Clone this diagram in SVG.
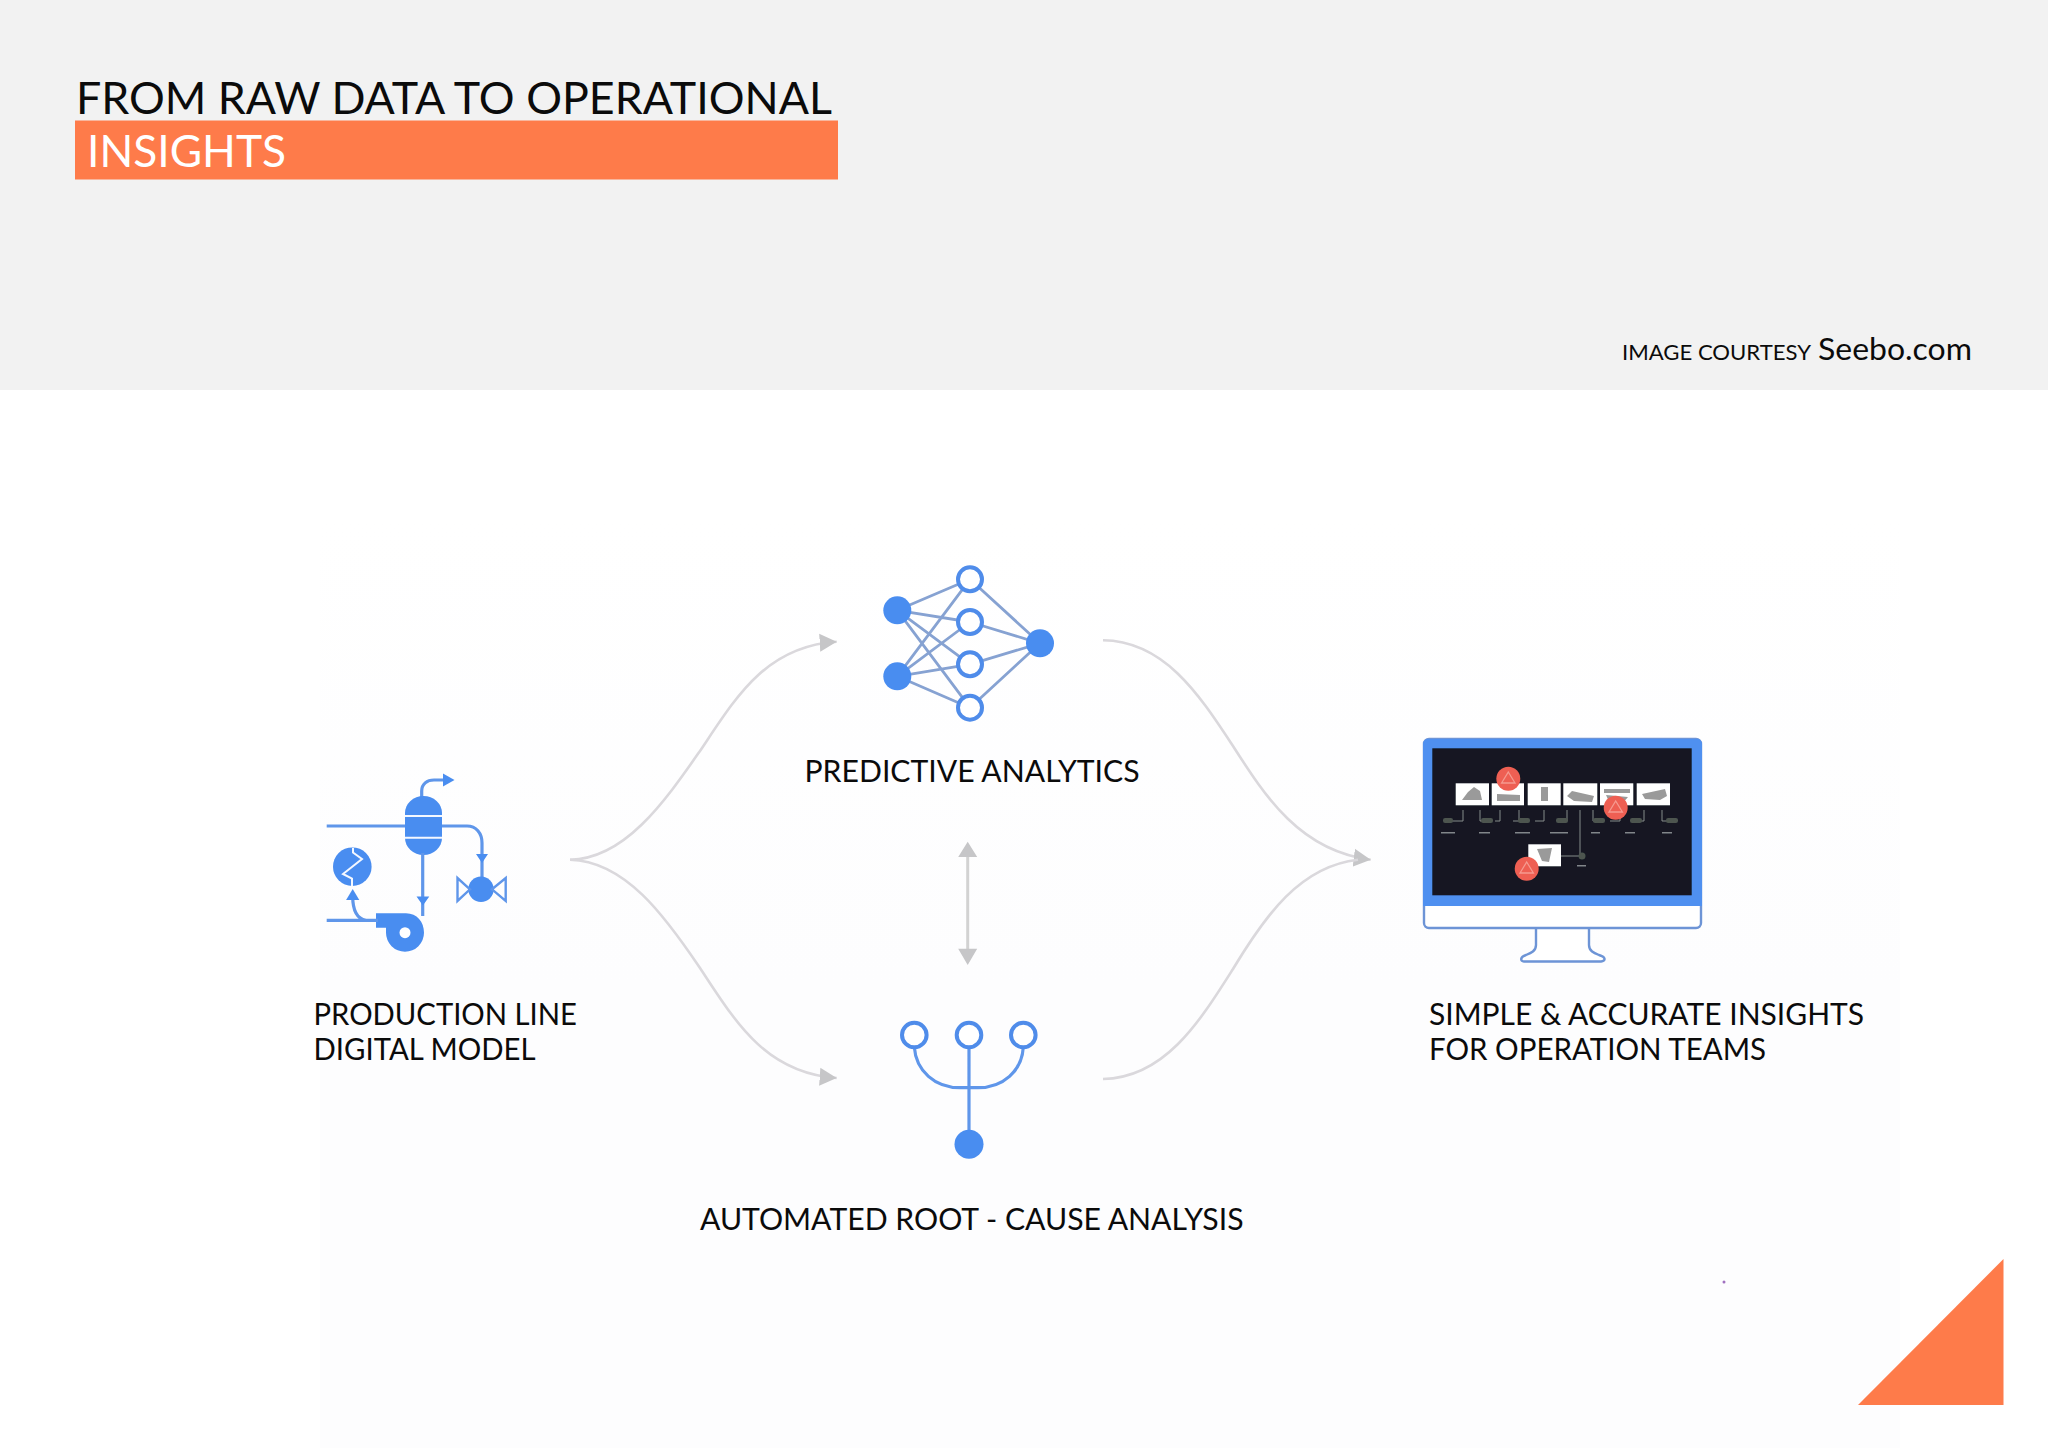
<svg xmlns="http://www.w3.org/2000/svg" width="2048" height="1448" viewBox="0 0 2048 1448">
<defs>
<style>
text{font-family:"Lato","Open Sans","Liberation Sans",sans-serif;fill:#0b0b0b}
.lbl{font-size:30px}
.b{fill:#4a8df0}
.bl{fill:none;stroke:#5f96ea;stroke-width:3.2}
.w{fill:none;stroke:#f4f8ff;stroke-width:2}
.e{stroke:#86a2d2;stroke-width:2.8;fill:none}
.h{fill:#fff;stroke:#4f8cea;stroke-width:4}
.c{fill:none;stroke:#dad8dc;stroke-width:2.6}
.t{fill:#fff}
.s{fill:#9a9a9a}
.g{fill:none;stroke:#8a8c8a;stroke-width:1}
.r{fill:#ee5f52}
.rt{fill:none;stroke:#f59a90;stroke-width:1.3}
</style>
<linearGradient id="fade" x1="0" y1="0" x2="0" y2="1"><stop offset="0" stop-color="#ffffff"/><stop offset="0.5" stop-color="#fdfdfe"/></linearGradient>
<filter id="soft" x="-5%" y="-5%" width="110%" height="110%"><feGaussianBlur stdDeviation="0.6"/></filter>
<marker id="ah" markerUnits="userSpaceOnUse" markerWidth="18" markerHeight="20" refX="17" refY="10" orient="auto"><path d="M0 1 17 10 0 19Z" fill="#c6c6c8"/></marker>
</defs>
<rect width="2048" height="1448" fill="#fff"/>
<rect x="320" y="520" width="1580" height="928" fill="url(#fade)"/>
<g id="header">
<rect width="2048" height="390" fill="#f2f2f2"/>
<text x="76" y="114" font-size="44" textLength="756" lengthAdjust="spacingAndGlyphs">FROM RAW DATA TO OPERATIONAL</text>
<rect x="75" y="120.500" width="763" height="59" fill="#fe7b4a"/>
<text x="87" y="167" font-size="44" textLength="199" lengthAdjust="spacingAndGlyphs" style="fill:#fff">INSIGHTS</text>
<text x="1622" y="360" font-size="22" textLength="189" lengthAdjust="spacingAndGlyphs">IMAGE COURTESY</text>
<text x="1818" y="360" font-size="30" textLength="154" lengthAdjust="spacingAndGlyphs">Seebo.com</text>
</g>
<g id="connectors" transform="translate(0 1)">
<path class="c" marker-end="url(#ah)" d="M570 858.700C625 858 665 800 700 750C735 698 765 645 836.700 640.700"/>
<path class="c" marker-end="url(#ah)" d="M570 858.700C625 860 665 915 700 967C735 1020 765 1072 836.700 1077"/>
<path class="c" marker-end="url(#ah)" d="M1103 639.300C1165 640 1200 695 1233 745C1265 795 1300 850 1370.700 858.700"/>
<path class="c" d="M1103 1078C1165 1077 1200 1020 1233 968C1265 915 1300 865 1358 858.700"/>
<g id="double-arrow">
<path d="M967.700 852V952" stroke="#d2d2d2" stroke-width="3" fill="none"/>
<path d="M967.700 840.700 977.200 856H958.200ZM967.700 964 977.200 947.700H958.200Z" fill="#c6c6c8"/>
</g>
</g>
<g id="production-line" transform="translate(0 1)">
<g filter="url(#soft)">
<path class="bl" d="M326.700 825H410M441 825H467C476 825 482 832 482 842V880"/>
<path class="bl" d="M421.700 796V790C421.700 783 427 779 434 779H445"/>
<path class="b" d="M443 772.500 454.500 779 443 785.500Z"/>
<rect class="b" x="405" y="795" width="37" height="59" rx="18.500" ry="17"/>
<path class="w" d="M405 815H442M405 836.700H442"/>
<path class="bl" d="M422.700 852V915"/>
<path class="b" d="M416.500 895.500H429.300L422.900 904.500ZM476 853H488L482 862Z"/>
<circle class="b" cx="481" cy="888.300" r="12.700"/>
<path d="M470 888.300 457.500 877V900ZM492 888.300 505.700 877V900Z" fill="none" stroke="#5f96ea" stroke-width="2.400"/>
<path class="b" d="M376 912.300H406C417 912.300 424 921 424 931.700A19 19 0 1 1 386 931.700V926.700H376Z"/>
<circle cx="405" cy="931.700" r="5.500" fill="#fff"/>
<path class="bl" d="M326.700 919.300H378M366 919.300C358 918 352.700 910 352.700 895"/>
<path class="b" d="M352.700 888 359.300 899H346.100Z"/>
<circle class="b" cx="352.300" cy="865.700" r="19.300"/>
<path class="w" d="M353 847V851.500L362 858 343 873 352 877.500V885"/>
</g>
<text class="lbl" x="313.500" y="1024" textLength="263.500" lengthAdjust="spacingAndGlyphs">PRODUCTION LINE</text>
<text class="lbl" x="313.500" y="1059" textLength="222" lengthAdjust="spacingAndGlyphs">DIGITAL MODEL</text>
</g>
<g id="predictive-analytics" transform="translate(0 1)">
<g filter="url(#soft)">
<path class="e" d="M897.300 609.300 970 578.300M897.300 609.300 970 621M897.300 609.300 970 663.300M897.300 609.300 970 706.700M897.300 675.300 970 578.300M897.300 675.300 970 621M897.300 675.300 970 663.300M897.300 675.300 970 706.700M970 578.300 1040 642.300M970 621 1040 642.300M970 663.300 1040 642.300M970 706.700 1040 642.300"/>
<circle class="h" cx="970" cy="578.300" r="12"/>
<circle class="h" cx="970" cy="621" r="12"/>
<circle class="h" cx="970" cy="663.300" r="12"/>
<circle class="h" cx="970" cy="706.700" r="12"/>
<circle class="b" cx="897.300" cy="609.300" r="14"/>
<circle class="b" cx="897.300" cy="675.300" r="14"/>
<circle class="b" cx="1040" cy="642.300" r="14"/>
</g>
<text class="lbl" x="804.500" y="781" textLength="335" lengthAdjust="spacingAndGlyphs">PREDICTIVE ANALYTICS</text>
</g>
<g id="root-cause" transform="translate(0 1)">
<g filter="url(#soft)">
<path class="bl" d="M969 1034V1143M914.300 1046C916 1070 935 1086.700 960 1086.700H978C1003 1086.700 1022 1070 1023.300 1046"/>
<circle class="h" cx="914.300" cy="1034" r="12.300"/>
<circle class="h" cx="969" cy="1034" r="12.300"/>
<circle class="h" cx="1023.300" cy="1034" r="12.300"/>
<circle class="b" cx="969" cy="1143.300" r="14.500"/>
</g>
<text class="lbl" x="700" y="1229" textLength="543.500" lengthAdjust="spacingAndGlyphs">AUTOMATED ROOT - CAUSE ANALYSIS</text>
</g>
<g id="insights" transform="translate(0 1)">
<g filter="url(#soft)">
<path d="M1536 928V944C1536 950 1531 952 1526 954C1520 956 1520 960 1524 960.500H1601C1606 960 1606 956 1599 954C1594 952 1589 950 1589 944V928" fill="#fff" stroke="#6d94d6" stroke-width="2.400"/>
<rect x="1424" y="738" width="277" height="189" rx="5" fill="#fff" stroke="#6d94d6" stroke-width="2.400"/>
<path d="M1423 743a5 5 0 0 1 5-5h269a5 5 0 0 1 5 5v162h-279Z" fill="#4f90f0"/>
<rect x="1432.300" y="747.300" width="259.400" height="147" fill="#121722"/>
<path class="g" d="M1463 809V820H1446M1480 809V820H1485M1500 809V820H1495M1519 809V820H1513M1544 809V820H1535M1567 809V820H1558M1580 809V855H1561M1593 809V820H1600M1620 809V820H1610M1644 809V820H1636M1662 809V820H1670"/>
<g fill="#4d544f"><rect x="1443" y="817" width="10" height="5" rx="2"/><rect x="1481" y="817" width="12" height="5" rx="2"/><rect x="1518" y="817" width="12" height="5" rx="2"/><rect x="1556" y="817" width="12" height="5" rx="2"/><rect x="1593" y="817" width="12" height="5" rx="2"/><rect x="1630" y="817" width="12" height="5" rx="2"/><rect x="1666" y="817" width="12" height="5" rx="2"/><circle cx="1582" cy="855" r="3.500"/></g>
<g fill="#82868a"><rect x="1441" y="831" width="14" height="1.500"/><rect x="1479" y="831" width="11" height="1.500"/><rect x="1515" y="831" width="15" height="1.500"/><rect x="1550" y="831" width="18" height="1.500"/><rect x="1591" y="831" width="9" height="1.500"/><rect x="1625" y="831" width="10" height="1.500"/><rect x="1662" y="831" width="10" height="1.500"/><rect x="1577" y="864" width="9" height="1.500"/></g>
<rect class="t" x="1455.700" y="782.300" width="33.300" height="22"/>
<rect class="t" x="1491.700" y="782.300" width="32.300" height="22"/>
<rect class="t" x="1527.700" y="782.300" width="33" height="22"/>
<rect class="t" x="1563.300" y="782.300" width="34" height="22"/>
<rect class="t" x="1600" y="782.300" width="33.300" height="22"/>
<rect class="t" x="1636.700" y="782.300" width="33.300" height="22"/>
<rect class="t" x="1528.300" y="843.300" width="32.700" height="22"/>
<path class="s" d="M1462 799 1468 791 1474 786 1480 790 1482 799ZM1497 800V793L1520 794V800ZM1541 800V786H1548V800ZM1567 795 1572 790 1594 795 1592 801 1574 800ZM1604 788H1630V792H1604ZM1606 794 1628 796 1622 803H1610ZM1642 793 1665 788 1667 795 1660 799 1645 798ZM1537 848 1552 847 1549 861 1542 860Z"/>
<circle class="r" cx="1508.300" cy="777.700" r="12"/>
<circle class="r" cx="1615.700" cy="806.700" r="12"/>
<circle class="r" cx="1526.700" cy="867.700" r="12"/>
<path class="rt" d="M1508.300 771 1515 782H1501.600ZM1615.700 800 1622.400 811H1609ZM1526.700 861 1533.400 872H1520Z"/>
</g>
<text class="lbl" x="1429" y="1024" textLength="435" lengthAdjust="spacingAndGlyphs">SIMPLE &amp; ACCURATE INSIGHTS</text>
<text class="lbl" x="1429" y="1059" textLength="337" lengthAdjust="spacingAndGlyphs">FOR OPERATION TEAMS</text>
</g>
<g id="corner">
<path d="M2003.500 1259V1405H1858Z" fill="#fe7b4a"/>
<circle cx="1724" cy="1282" r="1.500" fill="#a070c0"/>
</g>
</svg>
